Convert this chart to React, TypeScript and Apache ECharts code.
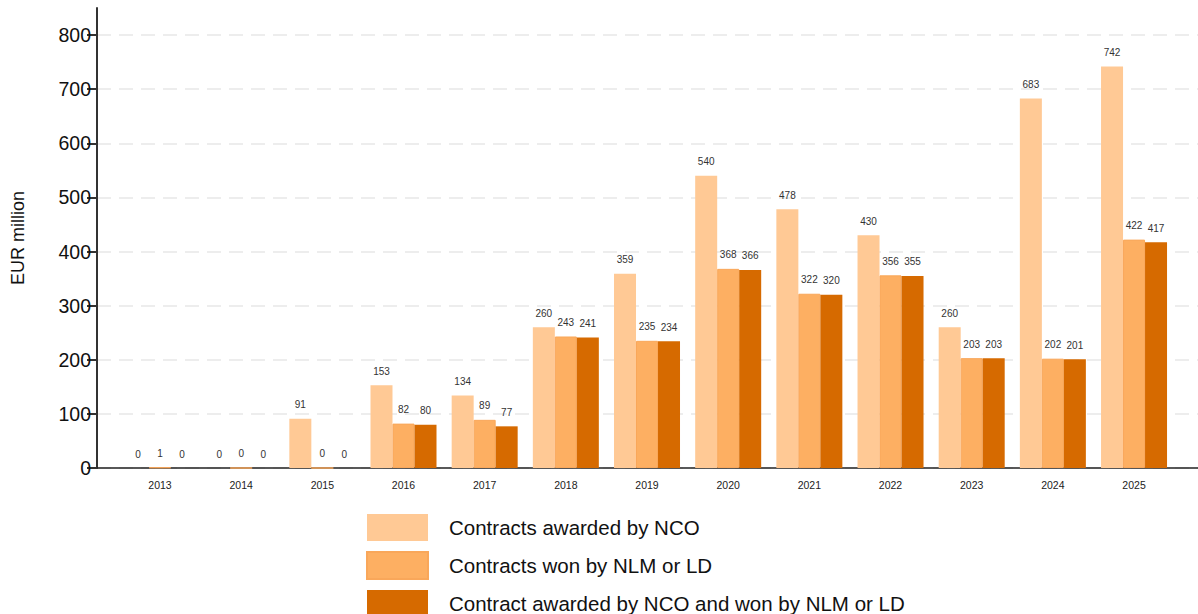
import React, { useEffect, useRef } from "react";
import * as echarts from "echarts";

// Years shown on the x axis
const years: number[] = [2013, 2014, 2015, 2016, 2017, 2018, 2019, 2020, 2021, 2022, 2023, 2024, 2025];

// Values in EUR million
const awardedByNCO: number[] = [0, 0, 91, 153, 134, 260, 359, 540, 478, 430, 260, 683, 742];
const wonByNLMorLD: number[] = [1, 0, 0, 82, 89, 243, 235, 368, 322, 356, 203, 202, 422];
const awardedAndWon: number[] = [0, 0, 0, 80, 77, 241, 234, 366, 320, 355, 203, 201, 417];

const seriesNames: string[] = [
  "Contracts awarded by NCO",
  "Contracts won by NLM or LD",
  "Contract awarded by NCO and won by NLM or LD",
];

const yTicks: number[] = [0, 100, 200, 300, 400, 500, 600, 700, 800];

const colors = ["#FFC995", "#FDAF62", "#D66A00"];

export default function App() {
  const ref = useRef<HTMLDivElement>(null);

  useEffect(() => {
    if (!ref.current) return;
    const chart = echarts.init(ref.current, null, { renderer: "svg" });

    const makeSeries = (name: string, values: number[], color: string, border?: boolean) => ({
      name,
      type: "bar",
      data: values.map((v, i) => [years[i], v]),
      barWidth: 22,
      barGap: "0%",
      itemStyle: border
        ? { color, borderColor: "#F9A75A", borderWidth: 1 }
        : { color },
      label: {
        show: true,
        position: "top",
        distance: 9,
        fontSize: 10,
        fontFamily: "Liberation Sans, Arial, sans-serif",
        color: "#333",
        formatter: (p: any) => String(p.value[1]),
      },
    });

    chart.setOption({
      animation: false,
      textStyle: { fontFamily: "Liberation Sans, Arial, sans-serif" },
      grid: { left: 97, top: 8, right: 0, bottom: 146, containLabel: false },
      legend: {
        orient: "vertical",
        left: 366,
        top: 514,
        height: 140,
        padding: 0,
        icon: "rect",
        itemWidth: 61,
        itemHeight: 27,
        itemGap: 10,
        data: seriesNames,
        textStyle: {
          fontSize: 20.5,
          color: "#111",
          padding: [0, 0, 0, 16],
          fontFamily: "Liberation Sans, Arial, sans-serif",
        },
      },
      xAxis: {
        type: "value",
        min: 2012.224,
        max: 2025.788,
        axisLine: { show: true, onZero: false, lineStyle: { color: "#222", width: 1.5 } },
        axisTick: { show: false },
        splitLine: { show: false },
        axisLabel: {
          customValues: years,
          formatter: (v: number) => String(Math.round(v)),
          fontSize: 10.5,
          color: "#222",
          margin: 11,
        },
      },
      yAxis: {
        type: "value",
        min: 0,
        max: 850,
        interval: 100,
        name: "EUR million",
        nameLocation: "middle",
        nameGap: 70,
        nameTextStyle: { fontSize: 18, color: "#111" },
        axisLine: { show: true, lineStyle: { color: "#333", width: 2 } },
        axisTick: {
          show: true,
          length: 10,
          customValues: yTicks,
          lineStyle: { color: "#333", width: 2 },
        },
        axisLabel: {
          customValues: yTicks,
          fontSize: 19.5,
          color: "#111",
          margin: 6,
        },
        splitLine: {
          show: true,
          lineStyle: { color: "#E8E8E8", width: 1.5, type: [14, 8] },
        },
      },
      series: [
        makeSeries(seriesNames[0], awardedByNCO, colors[0]),
        makeSeries(seriesNames[1], wonByNLMorLD, colors[1], true),
        makeSeries(seriesNames[2], awardedAndWon, colors[2]),
      ],
    });

    return () => chart.dispose();
  }, []);

  return (
    <div
      ref={ref}
      style={{ position: "fixed", left: 0, top: 0, width: 1198, height: 614, background: "#fff" }}
    />
  );
}
